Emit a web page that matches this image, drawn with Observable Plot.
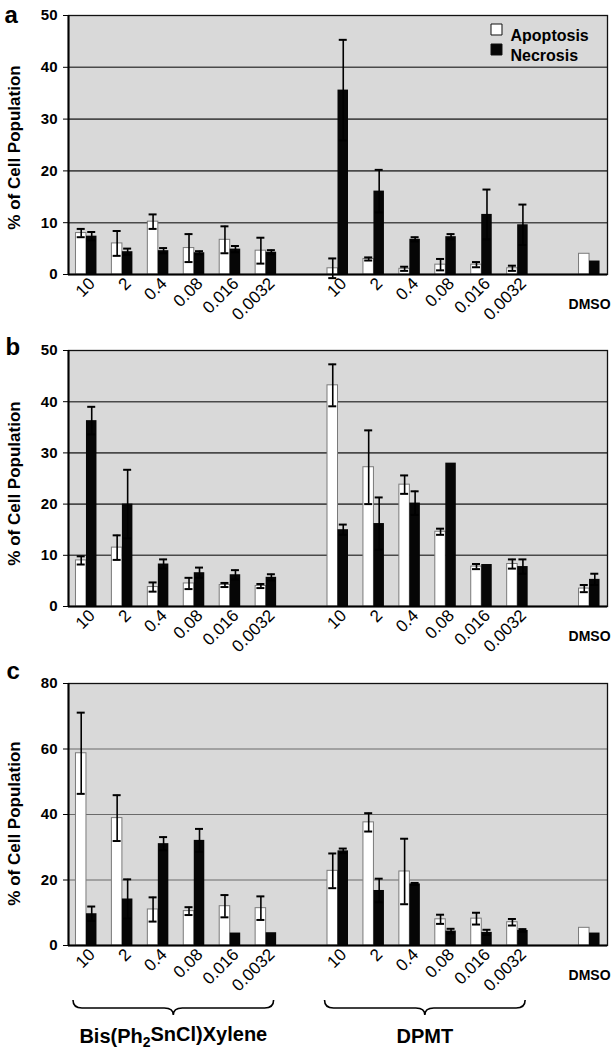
<!DOCTYPE html>
<html><head><meta charset="utf-8">
<script src="https://cdn.jsdelivr.net/npm/d3@7"></script>
<script src="https://cdn.jsdelivr.net/npm/@observablehq/plot@0.6"></script>
<style>
body{margin:0;background:#fff;}
#fig{position:relative;width:615px;height:1050px;font-family:"Liberation Sans",Arial,Helvetica,sans-serif;}
#fig svg{position:absolute;left:0;}
</style></head><body><div id="fig"></div>
<script>
// ---- categories ----
const doses = ["10","2","0.4","0.08","0.016","0.0032"];
const compounds = ["Bis(Ph₂SnCl)Xylene","DPMT"];
const control = "DMSO";
const series = ["Apoptosis","Necrosis"];
const yLabel = "% of Cell Population";

// ---- panel a (6 Bis doses, 6 DPMT doses, DMSO) ----
const aApop    = [8.0, 6.0, 10.2, 5.1, 6.7, 4.6,   1.2, 3.0, 1.1, 1.9, 1.9, 1.2,   4.0];
const aApopErr = [0.8, 2.4, 1.4, 2.7, 2.6, 2.5,    1.9, 0.3, 0.4, 1.1, 0.5, 0.5,   null];
const aNecr    = [7.4, 4.4, 4.6, 4.2, 4.9, 4.3,    35.6, 16.1, 6.8, 7.3, 11.6, 9.6, 2.6];
const aNecrErr = [0.8, 0.6, 0.5, 0.3, 0.6, 0.4,    9.7, 4.1, 0.4, 0.5, 4.8, 3.9,   null];

// ---- panel b ----
const bApop    = [9.0, 11.5, 3.8, 4.5, 4.2, 4.0,   43.2, 27.2, 23.8, 14.6, 7.8, 8.3, 3.5];
const bApopErr = [0.8, 2.4, 0.9, 1.1, 0.4, 0.4,    4.1, 7.2, 1.8, 0.6, 0.5, 0.9,   0.7];
const bNecr    = [36.3, 20.0, 8.3, 6.6, 6.2, 5.7,  15.0, 16.2, 20.2, 28.0, 8.2, 7.8, 5.3];
const bNecrErr = [2.7, 6.7, 0.9, 1.0, 0.9, 0.6,    1.0, 5.1, 2.3, null, null, 1.4,  1.1];

// ---- panel c ----
const cApop    = [58.7, 38.9, 11.0, 10.5, 12.0, 11.4, 22.8, 37.6, 22.6, 8.0, 8.2, 7.1, 5.4];
const cApopErr = [12.4, 7.0, 3.7, 1.2, 3.4, 3.6,     5.3, 2.8, 10.0, 1.4, 1.8, 1.0,  null];
const cNecr    = [9.7, 14.2, 31.1, 32.1, 3.8, 3.9,   28.9, 16.8, 18.8, 4.4, 4.0, 4.6, 3.8];
const cNecrErr = [2.2, 6.0, 2.0, 3.5, null, null,    0.7, 3.6, 0.3, 0.7, 0.8, 0.4,   null];

// ---- tick values ----
const abTicks = [0, 10, 20, 30, 40, 50];
const cTicks = [0, 20, 40, 60, 80];

// ---- layout ----
const W = 615, ML = 68, MR = 8;
const NSLOT = 15;
const BW = (W - ML - MR) / NSLOT;
const BAR = 10.5;
const slotKeys = [...doses.map(d => "B|" + d), "gap1", ...doses.map(d => "D|" + d), "gap2", control];
const dataKeys = [...doses.map(d => "B|" + d), ...doses.map(d => "D|" + d), control];

function rowsOf(apop, apopErr, necr, necrErr) {
  return dataKeys.map((k, i) => ({
    slot: k, dose: i < 12 ? doses[i % 6] : control,
    apop: apop[i], apopErr: apopErr[i], necr: necr[i], necrErr: necrErr[i]
  }));
}

function errMarks(rows, v, e, dx) {
  const R = rows.filter(r => r[e] != null);
  const cap = {x: "slot", dx, insetLeft: BW / 2 - 4, insetRight: BW / 2 - 4, stroke: "#000", strokeWidth: 2};
  return [
    Plot.ruleX(R, {x: "slot", y1: d => d[v] - d[e], y2: d => d[v] + d[e], dx, stroke: "#000", strokeWidth: 1.6}),
    Plot.tickY(R, {...cap, y: d => d[v] + d[e]}),
    Plot.tickY(R, {...cap, y: d => d[v] - d[e]})
  ];
}

function panel(o) {
  const rows = o.rows;
  const doseRows = rows.filter(r => r.slot !== control);
  const marks = [
    Plot.frame({fill: "#d9d9d9", stroke: null}),
    Plot.ruleY(o.ticks.slice(1, -1), {stroke: o.gridStroke, strokeWidth: o.gridWidth}),
    Plot.frame({stroke: "#111", strokeWidth: 1.3}),
    Plot.barY(rows, {x: "slot", y: "apop", fill: "#fff", stroke: "#7a7a7a", strokeWidth: 1, insetLeft: BW / 2 - BAR, insetRight: BW / 2}),
    Plot.barY(rows, {x: "slot", y: "necr", fill: "#060606", insetLeft: BW / 2, insetRight: BW / 2 - BAR}),
    ...errMarks(rows, "apop", "apopErr", -BAR / 2),
    ...errMarks(rows, "necr", "necrErr", BAR / 2),
    Plot.ruleY([0], {stroke: "#000", strokeWidth: 2}),
    Plot.ruleX([slotKeys[0]], {dx: -BW / 2, stroke: "#000", strokeWidth: 2}),
    Plot.text(doseRows, {x: "slot", text: "dose", frameAnchor: "bottom", rotate: -45, textAnchor: "end",
      dx: 9.5, dy: 10, fontSize: 17, fontWeight: "normal", fill: "#000"}),
    Plot.text([control], {x: d => d, text: d => d, frameAnchor: "bottom", lineAnchor: "bottom", dy: 34, fontSize: 14, fontWeight: "bold"}),
    Plot.text([yLabel], {text: d => d, frameAnchor: "left", textAnchor: "middle", lineAnchor: "middle", rotate: -90,
      dx: 14 - ML, dy: o.labelDy, fontSize: 17, fontWeight: "bold"}),
    Plot.text([o.letter], {text: d => d, frameAnchor: "top-left", textAnchor: "start", lineAnchor: "bottom",
      dx: o.letterX - ML, dy: o.letterDy, fontSize: 24, fontWeight: "bold"})
  ];
  if (o.legend) {
    series.forEach((s, i) => {
      marks.push(Plot.dot([s], {frameAnchor: "top-right", dx: 496 - (W - MR), dy: 14 + 20 * i, symbol: "square", r: 6.2,
        fill: i ? "#060606" : "#fff", stroke: "#111", strokeWidth: 1}));
      marks.push(Plot.text([s], {text: d => d, frameAnchor: "top-right", textAnchor: "start", dx: 510 - (W - MR), dy: 14.4 + 20 * i,
        fontSize: 16, fontWeight: "bold"}));
    });
  }
  if (o.compoundLabels) {
    const cl = compounds.map((c, i) => ({slot: (i ? "D|" : "B|") + doses[3], name: c}));
    marks.push(Plot.text(cl, {x: "slot", text: "name", frameAnchor: "bottom", lineAnchor: "bottom",
      dx: -BW / 2 - 3, dy: 97, fontSize: 20, fontWeight: "bold"}));
  }
  const chart = Plot.plot({
    width: W, height: o.height,
    marginLeft: ML, marginRight: MR, marginTop: o.mt, marginBottom: o.mb,
    style: {fontFamily: "'Liberation Sans', Arial, Helvetica, sans-serif", fontSize: "15px", fontWeight: "bold",
      color: "#000", background: "transparent", overflow: "visible"},
    x: {type: "band", domain: slotKeys, padding: 0, round: false, axis: null},
    y: {domain: [o.ticks[0], o.ticks[o.ticks.length - 1]], ticks: o.ticks, tickSize: 5, tickPadding: 6, label: null, tickFormat: d => String(d)},
    marks
  });
  chart.style.top = o.top + "px";
  return chart;
}

const fig = document.getElementById("fig");
const pa = panel({letter: "a", rows: rowsOf(aApop, aApopErr, aNecr, aNecrErr), ticks: abTicks, top: 0, height: 330, mt: 15, mb: 56,
  letterX: 4, letterDy: 7, labelDy: 2.5, legend: true, gridStroke: "#4a4a4a", gridWidth: 1.6});
const pb = panel({letter: "b", rows: rowsOf(bApop, bApopErr, bNecr, bNecrErr), ticks: abTicks, top: 330, height: 330, mt: 20, mb: 54,
  letterX: 5, letterDy: 4, labelDy: 5, gridStroke: "#4a4a4a", gridWidth: 1.6});
const pc = panel({letter: "c", rows: rowsOf(cApop, cApopErr, cNecr, cNecrErr), ticks: cTicks, top: 660, height: 390, mt: 23, mb: 105,
  letterX: 6, letterDy: -5, labelDy: 9, compoundLabels: true, gridStroke: "#6a6a6a", gridWidth: 1.2});
fig.append(pa, pb, pc);

// braces under the two compound groups (panel c), positioned from the x scale
const xs = pc.scale("x");
const base = 390 - 105;
[["B|" + doses[0], "B|" + doses[5]], ["D|" + doses[0], "D|" + doses[5]]].forEach(([f, l]) => {
  const x0 = xs.apply(f) + 5, x1 = xs.apply(l) + xs.bandwidth - 10, m = (x0 + x1) / 2;
  const yT = base + 55, yL = base + 63, yP = base + 70, r = 9;
  d3.select(pc).append("path")
    .attr("fill", "none").attr("stroke", "#000").attr("stroke-width", 1.6)
    .attr("d", `M${x0},${yT} Q${x0},${yL} ${x0 + r},${yL} L${m - r},${yL} Q${m},${yL} ${m},${yP} Q${m},${yL} ${m + r},${yL} L${x1 - r},${yL} Q${x1},${yL} ${x1},${yT}`);
});

// render the subscript as a real subscript
d3.select(pc).selectAll("text").each(function () {
  const t = this.textContent;
  if (t.includes("₂")) {
    const [pre, post] = t.split("₂");
    const sel = d3.select(this);
    sel.text(null);
    sel.append("tspan").text(pre);
    sel.append("tspan").attr("dy", "0.3em").attr("font-size", "14px").text("2");
    sel.append("tspan").attr("dy", "-0.3em").text(post);
  }
});
</script></body></html>
